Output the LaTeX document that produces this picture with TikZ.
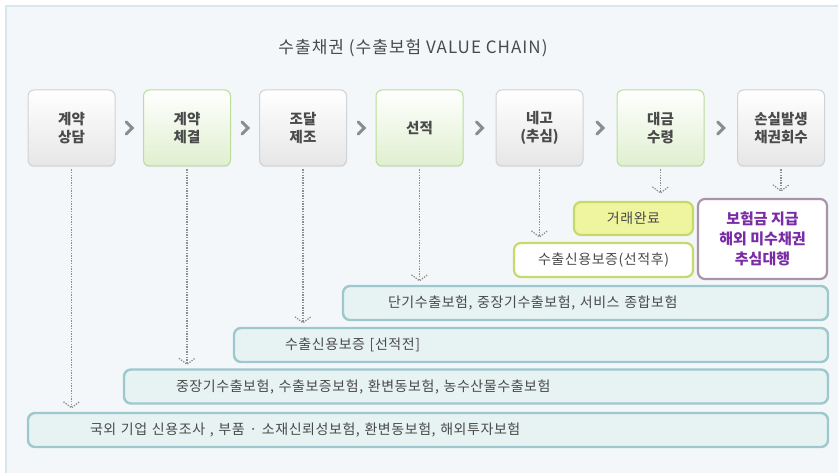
\documentclass[tikz,border=0pt]{standalone}
\usepackage{fontspec}
\setmainfont{Noto Sans CJK KR}
\usetikzlibrary{shadows}
\definecolor{panelbg}{HTML}{F3F7FA}
\definecolor{panelline}{HTML}{D9E6EE}
\definecolor{boxline}{HTML}{D2D2D2}
\definecolor{boxbot}{HTML}{E6E6E6}
\definecolor{grline}{HTML}{B8DE9A}
\definecolor{grbot}{HTML}{E0EFCF}
\definecolor{barfill}{HTML}{E7F2F2}
\definecolor{barline}{HTML}{9DC8CD}
\definecolor{txt}{HTML}{4A4A4A}
\definecolor{limefill}{HTML}{EEF59E}
\definecolor{limeline}{HTML}{C5DA6A}
\definecolor{purline}{HTML}{A993A9}
\definecolor{purtxt}{HTML}{7A2CA6}
\definecolor{chev}{HTML}{8C8C8C}
\definecolor{dotc}{HTML}{8E8E8E}
\tikzset{
  stage/.style={draw=boxline, line width=1pt, rounded corners=6pt, minimum width=87pt, minimum height=76pt,
    inner sep=0pt, top color=white, middle color=white, bottom color=boxbot, align=center,
    font=\fontsize{14.5}{18}\selectfont\bfseries, text=txt,
    drop shadow={shadow xshift=0pt, shadow yshift=-1.2pt, opacity=0.12}},
  gstage/.style={stage, draw=grline, bottom color=grbot},
  bartxt/.style={font=\fontsize{14}{16}\selectfont\addfontfeature{LetterSpace=4}, text=txt},
  bar/.style={bartxt, draw=barline, line width=2.4pt, rounded corners=7pt, fill=barfill, minimum height=34pt,
    inner ysep=0pt, align=left},
  dotline/.style={draw=dotc, line width=1.3pt, dash pattern=on 1.3pt off 1.3pt},
  chevron/.style={draw=chev, line width=3pt, line cap=round},
}
\newcommand\vtip[1]{\draw[dotline] ([xshift=-8pt,yshift=6pt]#1) -- (#1) -- ([xshift=8pt,yshift=6pt]#1);}
\begin{document}
\begin{tikzpicture}[x=1pt,y=-1pt]
\useasboundingbox (0,0) rectangle (838,473);
\fill[panelbg] (6,6) rectangle (838,473);
\draw[panelline, line width=1.2pt] (6,473) -- (6,6) -- (838,6);

\node[font=\fontsize{17}{18}\selectfont\addfontfeature{LetterSpace=6}, text=txt] (title) at (413,48) {수출채권 (수출보험 VALUE CHAIN)};

% stages
\node[stage]  (b1) at (71.5,128)  {계약\\상담};
\node[gstage] (b2) at (187,128)   {계약\\체결};
\node[stage]  (b3) at (303,128)   {조달\\제조};
\node[gstage] (b4) at (419.5,128) {선적};
\node[stage]  (b5) at (539.5,128) {네고\\(추심)};
\node[gstage] (b6) at (660.5,128) {대금\\수령};
\node[stage]  (b7) at (781,128)   {손실발생\\채권회수};

% chevrons
\foreach \a/\b in {b1/b2,b2/b3,b3/b4,b4/b5,b5/b6,b6/b7}{
  \path (\a.east) -- (\b.west) coordinate[midway] (m);
  \draw[chevron] ([xshift=-3pt,yshift=6pt]m) -- ([xshift=3pt]m) -- ([xshift=-3pt,yshift=-6pt]m);
}

% result boxes
\node[bartxt, draw=limeline, line width=2.2pt, rounded corners=7pt, fill=limefill, minimum width=119pt, minimum height=33pt,
  inner sep=0pt] (done) at (633.5,218.5) {거래완료};
\node[bartxt, draw=limeline, line width=2.2pt, rounded corners=7pt, fill=white, minimum width=179pt, minimum height=34pt,
  inner sep=0pt] (post) at (603.5,260) {수출신용보증(선적후)};
\node[draw=purline, line width=2.2pt, rounded corners=7pt, fill=white, minimum width=129pt, minimum height=80pt,
  inner sep=0pt, align=center, font=\fontsize{15}{20}\selectfont\bfseries, text=purtxt] (pay) at (762.5,239)
  {보험금 지급\\해외 미수채권\\추심대행};

% bars
\node[bar, inner xsep=45pt, text width=395pt] (bA) at (585.5,303) {단기수출보험, 중장기수출보험, 서비스 종합보험};
\node[bar, inner xsep=51pt, text width=492pt] (bB) at (531,345) {수출신용보증 [선적전]};
\node[bar, inner xsep=52pt, text width=600pt] (bC) at (476,386.5) {중장기수출보험, 수출보증보험, 환변동보험, 농수산물수출보험};
\node[bar, inner xsep=62pt, text width=676pt] (bD) at (428,430) {국외 기업 신용조사 , 부품 · 소재신뢰성보험, 환변동보험, 해외투자보험};

% dotted connectors
\coordinate (e1) at ([yshift=4pt]b1.south |- bD.north);
\coordinate (e2) at ([yshift=4pt]b2.south |- bC.north);
\coordinate (e3) at ([yshift=4pt]b3.south |- bB.north);
\coordinate (e4) at ([yshift=4pt]b4.south |- bA.north);
\coordinate (e5) at ([yshift=5pt]b5.south |- post.north);
\coordinate (e6) at ([yshift=8pt]b6.south |- done.north);
\coordinate (e7) at ([yshift=7pt]b7.south |- pay.north);
\foreach \i in {1,...,7}{
  \draw[dotline, shorten <=3pt] (b\i.south) -- (e\i);
  \vtip{e\i}
}
\end{tikzpicture}
\end{document}
